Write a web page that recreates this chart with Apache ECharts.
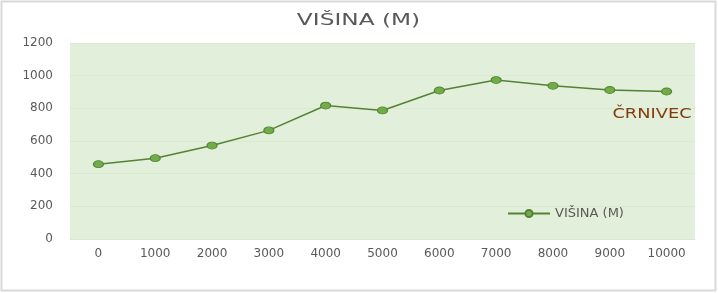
<!DOCTYPE html>
<html><head><meta charset="utf-8">
<script src="https://cdn.jsdelivr.net/npm/echarts@6/dist/echarts.min.js"></script>
<style>html,body{margin:0;padding:0;background:#fff}#c{width:718px;height:293px}</style>
</head><body><div id="c"></div>
<script>
const categories = ['0','1000','2000','3000','4000','5000','6000','7000','8000','9000','10000'];
const visina = [458, 495, 572, 665, 817, 787, 909, 973, 938, 912, 903];
const yTicks = [0, 200, 400, 600, 800, 1000, 1200];
const seriesName = 'VIŠINA (M)';
const titleText = 'VIŠINA (M)';
const noteText = 'ČRNIVEC';
const chart = echarts.init(document.getElementById('c'));
const font = 'DejaVu Sans';
chart.setOption({
  animation: false,
  backgroundColor: '#ffffff',
  graphic: [
    { type: 'rect', shape: { x: 1.5, y: 1.5, width: 714, height: 289 }, style: { fill: 'none', stroke: '#d9d9d9', lineWidth: 2 }, z: 100 },
    { type: 'text', x: 358.5, y: 21, scaleX: 1.55, style: { text: titleText, fill: '#595959', font: '15px "DejaVu Sans"', textAlign: 'center', textVerticalAlign: 'middle' }, z: 50 },
    { type: 'text', x: 652, y: 114, scaleX: 1.27, style: { text: noteText, fill: '#843c0c', font: '14px "DejaVu Sans"', textAlign: 'center', textVerticalAlign: 'middle' }, z: 50 }
  ],
  legend: { data: [seriesName], left: 502, top: 202,
    itemWidth: 42, itemHeight: 9, itemGap: 2,
    textStyle: { fontFamily: font, fontSize: 13, color: '#595959' } },
  grid: { left: 70, right: 23, top: 43, bottom: 54, show: true, backgroundColor: '#e2efda', borderWidth: 0 },
  xAxis: { type: 'category', data: categories, boundaryGap: true,
    axisLine: { show: false }, axisTick: { show: false },
    axisLabel: { fontFamily: font, fontSize: 12, color: '#595959', margin: 9 } },
  yAxis: { type: 'value', min: yTicks[0], max: yTicks[yTicks.length-1], interval: 200,
    axisLine: { show: false }, axisTick: { show: false },
    axisLabel: { fontFamily: font, fontSize: 12, color: '#595959', margin: 17, formatter: v => String(v) } },
  series: [{ name: seriesName, type: 'line', data: visina,
    symbol: 'circle', symbolSize: [10, 7],
    lineStyle: { color: '#548235', width: 1.5 },
    itemStyle: { color: '#70ad47', borderColor: '#548235', borderWidth: 1 } }]
});
chart.setOption({ yAxis: { splitLine: { lineStyle: { color: '#d9e9cf', width: 1 } } } });
</script></body></html>
